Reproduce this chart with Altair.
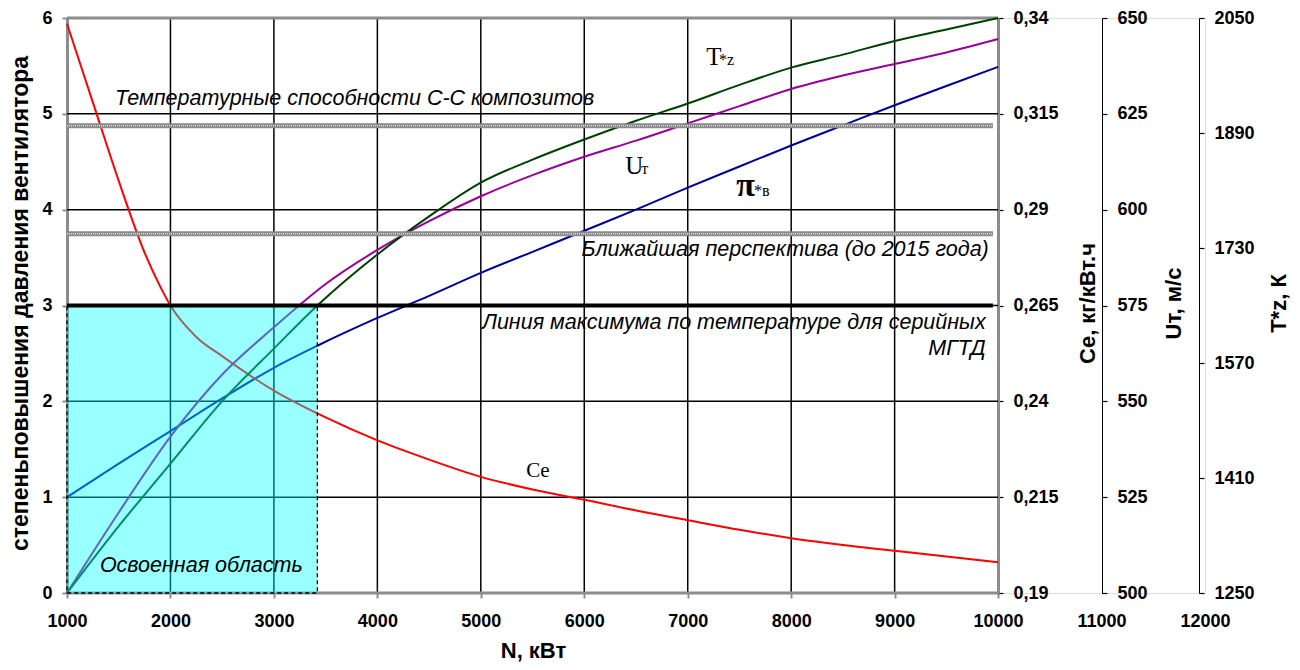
import altair as alt
import pandas as pd

# ---------------- data ----------------
x_ticks = [1000, 2000, 3000, 4000, 5000, 6000, 7000, 8000, 9000, 10000, 11000, 12000]
grid_x = [2000, 3000, 4000, 5000, 6000, 7000, 8000, 9000]
grid_y = [1, 2, 3, 4, 5]
left_ticks = [0, 1, 2, 3, 4, 5, 6]
ce_ticks = [0.19, 0.215, 0.24, 0.265, 0.29, 0.315, 0.34]
u_ticks = [500, 525, 550, 575, 600, 625, 650]
t_ticks = [1250, 1410, 1570, 1730, 1890, 2050]

# pressure ratio of the fan (left axis)
N_pi = [1000, 1500, 2000, 2500, 3000, 3420, 4000, 4500, 5000, 5500, 6000,
        6500, 7000, 7500, 8000, 8500, 9000, 9500, 10000]
pi_vals = [1.0, 1.35, 1.69, 2.03, 2.35, 2.58, 2.87, 3.10, 3.34, 3.56, 3.78,
           4.00, 4.23, 4.45, 4.67, 4.88, 5.09, 5.29, 5.49]

# specific fuel consumption Ce, kg/kWh
N_ce = [1000, 1250, 1500, 1750, 1900, 2000, 2250, 2500, 3000, 3500, 4000, 4500,
        5000, 5500, 6000, 6500, 7000, 7500, 8000, 8500, 9000, 9500, 10000]
ce_vals = [0.3385, 0.318, 0.2975, 0.2788, 0.270, 0.265, 0.2568, 0.2518, 0.2428,
           0.2358, 0.2298, 0.2248, 0.2203, 0.2170, 0.2143, 0.2115, 0.2090,
           0.2065, 0.2043, 0.2025, 0.2010, 0.1995, 0.1980]

# blade tip speed U, m/s
N_u = [1000, 1500, 2000, 2500, 3000, 3500, 4000, 4500, 5000, 5500, 6000,
       6500, 7000, 7500, 8000, 8500, 9000, 9500, 10000]
u_vals = [500, 521.0, 540.8, 557.0, 569.3, 580.6, 589.5, 597.0, 603.5, 609.0,
          613.8, 618.0, 622.5, 627.0, 631.5, 635.0, 638.0, 641.0, 644.5]

# gas temperature T*z, K
N_t = [1000, 1500, 2000, 2500, 3000, 3420, 4000, 4500, 5000, 5500, 6000,
       6500, 7000, 7500, 8000, 8500, 9000, 9500, 10000]
t_vals = [1250, 1343, 1430, 1517, 1590, 1650, 1721, 1774, 1821, 1853, 1881,
          1907, 1931, 1957, 1981, 1999, 2018, 2034, 2050]

# temperature reference levels, K
ref_gray_T = [1900, 1750]
ref_black_T = [1650]

# mastered region
mastered_N = [1000, 3420]
mastered_pi = [0, 3]

# annotations (left-axis units)
note_left_text = ["Температурные способности С-С композитов", "Освоенная область"]
note_left_N = [1463, 1318]
note_left_v = [5.16, 0.28]
note_right_text = ["Ближайшая перспектива (до 2015 года)",
                   "Линия максимума по температуре для серийных", "МГТД"]
note_right_N = [9910, 9880, 9880]
note_right_v = [3.58, 2.82, 2.55]

lab_main = ["T", "U"]
lab_main_N = [7178, 6396]
lab_main_v = [5.51, 4.37]
lab_pi = ["π"]
lab_pi_N = [7470]
lab_pi_v = [4.14]
lab_sub = ["*z", "т", "*в"]
lab_sub_N = [7303, 6550, 7641]
lab_sub_v = [5.51, 4.37, 4.14]
ce_label = ["Ce"]
ce_label_N = [5440]
ce_label_v = [1.21]

# ---------------- styling ----------------
FONT = "Liberation Sans"
SERIF = "Liberation Serif"
GRAY = "#8c8c8c"
W, H = 1138, 575
X_MIN, X_MAX, X_END = 1000, 12000, 10000
LBL = 18
TTL = 22
TITLE_Y = 285

xscale = alt.Scale(domain=[X_MIN, X_MAX], nice=False, zero=False)
xaxis = alt.Axis(
    values=x_ticks, format="d", grid=False, domain=False,
    ticks=True, tickSize=5, tickWidth=2, tickColor=GRAY,
    tickOpacity={"condition": {"test": "datum.value > 10000", "value": 0}, "value": 1},
    labelFont=FONT, labelFontSize=LBL, labelFontWeight="bold", labelColor="black",
    labelPadding=14, labelFlush=False,
    title="N, кВт", titleFont=FONT, titleFontSize=TTL, titleFontWeight="bold",
    titleColor="black", titleX=466, titleY=57, titleAlign="center",
    titleBaseline="middle",
)


def X(field):
    return alt.X(f"{field}:Q", scale=xscale, axis=xaxis)


yL = alt.Scale(domain=[0, 6], nice=False, zero=False)
left_axis = alt.Axis(
    values=left_ticks, grid=False, domainColor=GRAY, domainWidth=3,
    tickColor=GRAY, tickSize=5, tickWidth=2,
    labelFont=FONT, labelFontSize=LBL, labelFontWeight="bold", labelColor="black",
    labelPadding=10,
    title="степеньповышения давления вентилятора", titleFont=FONT,
    titleFontSize=23, titleFontWeight="bold", titleColor="black",
    titleAngle=270, titleX=-47, titleY=TITLE_Y, titleAlign="center",
    titleBaseline="middle", orient="left",
)


def right_axis(vals, title, offset, title_x, dcolor, dwidth, expr):
    return alt.Axis(
        values=vals, grid=False, orient="right", offset=offset,
        domainColor=dcolor, domainWidth=dwidth,
        tickColor="black", tickSize=5, tickWidth=1.2,
        labelFont=FONT, labelFontSize=LBL, labelFontWeight="bold",
        labelColor="black", labelPadding=10, labelExpr=expr,
        title=title, titleFont=FONT, titleFontSize=TTL, titleFontWeight="bold",
        titleColor="black", titleAngle=270, titleX=title_x, titleY=TITLE_Y,
        titleAlign="center", titleBaseline="middle",
    )


def YL(field):
    return alt.Y(f"{field}:Q", scale=yL, axis=None)


# ---------------- layers ----------------
hgrid = pd.DataFrame({"v": grid_y, "xs": X_MIN, "xe": X_END})
vgrid = pd.DataFrame({"N": grid_x})
grid_layer = alt.layer(
    alt.Chart(hgrid).mark_rule(color="black", strokeWidth=1.5).encode(
        x=X("xs"), x2="xe:Q", y=alt.Y("v:Q", scale=yL, axis=left_axis)),
    alt.Chart(vgrid).mark_rule(color="black", strokeWidth=1.5).encode(x=X("N")),
)

frame_df = pd.DataFrame({"v": [0, 6], "xs": X_MIN, "xe": X_END})
frame_layer = alt.Chart(frame_df).mark_rule(color=GRAY, strokeWidth=3).encode(
    x=X("xs"), x2="xe:Q", y=YL("v"))

pi_df = pd.DataFrame({"N": N_pi, "v": pi_vals})
pi_layer = alt.Chart(pi_df).mark_line(color="#000099", strokeWidth=2,
                                      interpolate="monotone").encode(
    x=X("N"), y=YL("v"))

ce_df = pd.DataFrame({"N": N_ce, "ce": ce_vals})
ce_layer = alt.Chart(ce_df).mark_line(color="#ff0000", strokeWidth=2,
                                      interpolate="monotone").encode(
    x=X("N"),
    y=alt.Y("ce:Q", scale=alt.Scale(domain=[0.19, 0.34], nice=False, zero=False),
            axis=right_axis(ce_ticks, "Ce, кг/кВт.ч", -207, 89, GRAY, 3,
                            "replace(format(datum.value, '.3~f'), '.', ',')")))

u_df = pd.DataFrame({"N": N_u, "u": u_vals})
u_layer = alt.Chart(u_df).mark_line(color="#990099", strokeWidth=2,
                                    interpolate="monotone").encode(
    x=X("N"),
    y=alt.Y("u:Q", scale=alt.Scale(domain=[500, 650], nice=False, zero=False),
            axis=right_axis(u_ticks, "Uт, м/с", -103, 71, "black", 1,
                            "format(datum.value, 'd')")))

t_df = pd.DataFrame({"N": N_t, "t": t_vals})
yT = alt.Scale(domain=[1250, 2050], nice=False, zero=False)
t_layer = alt.Chart(t_df).mark_line(color="#004000", strokeWidth=2,
                                    interpolate="monotone").encode(
    x=X("N"),
    y=alt.Y("t:Q", scale=yT,
            axis=right_axis(t_ticks, "T*z, К", -6, 79, "black", 1,
                            "format(datum.value, 'd')")))

rect_df = pd.DataFrame({"n0": [mastered_N[0]], "n1": [mastered_N[1]],
                        "v0": [mastered_pi[0]], "v1": [mastered_pi[1]]})
rect_layer = alt.Chart(rect_df).mark_rect(
    fill="#00ffff", fillOpacity=0.4, stroke="black", strokeOpacity=1,
    strokeDash=[4, 3], strokeWidth=1.3).encode(
    x=X("n0"), x2="n1:Q", y=YL("v0"), y2="v1:Q")

ref_gray_df = pd.DataFrame({"t": ref_gray_T, "xs": X_MIN, "xe": 9950})
ref_black_df = pd.DataFrame({"t": ref_black_T, "xs": X_MIN, "xe": 9950})
ref_layer = alt.layer(
    alt.Chart(ref_gray_df).mark_rule(color="#8a8a8a", strokeWidth=5).encode(
        x=X("xs"), x2="xe:Q", y=alt.Y("t:Q", scale=yT, axis=None)),
    alt.Chart(ref_gray_df).mark_rule(color="#d8d8d8", strokeWidth=1.5,
                                     strokeDash=[1, 1]).encode(
        x=X("xs"), x2="xe:Q", y=alt.Y("t:Q", scale=yT, axis=None)),
    alt.Chart(ref_black_df).mark_rule(color="black", strokeWidth=4).encode(
        x=X("xs"), x2="xe:Q", y=alt.Y("t:Q", scale=yT, axis=None)),
)

nl_df = pd.DataFrame({"N": note_left_N, "v": note_left_v, "txt": note_left_text})
nr_df = pd.DataFrame({"N": note_right_N, "v": note_right_v, "txt": note_right_text})
lm_df = pd.DataFrame({"N": lab_main_N, "v": lab_main_v, "txt": lab_main})
lp_df = pd.DataFrame({"N": lab_pi_N, "v": lab_pi_v, "txt": lab_pi})
ls_df = pd.DataFrame({"N": lab_sub_N, "v": lab_sub_v, "txt": lab_sub})
lc_df = pd.DataFrame({"N": ce_label_N, "v": ce_label_v, "txt": ce_label})

text_layer = alt.layer(
    alt.Chart(nl_df).mark_text(font=FONT, fontSize=21.5, fontStyle="italic",
                               align="left", baseline="middle", color="black").encode(
        x=X("N"), y=YL("v"), text="txt:N"),
    alt.Chart(nr_df).mark_text(font=FONT, fontSize=21.5, fontStyle="italic",
                               align="right", baseline="middle", color="black").encode(
        x=X("N"), y=YL("v"), text="txt:N"),
    alt.Chart(lm_df).mark_text(font=SERIF, fontSize=25, align="left",
                               baseline="alphabetic", color="black").encode(
        x=X("N"), y=YL("v"), text="txt:N"),
    alt.Chart(lp_df).mark_text(font=SERIF, fontSize=34, fontWeight="bold", align="left",
                               baseline="alphabetic", color="black").encode(
        x=X("N"), y=YL("v"), text="txt:N"),
    alt.Chart(ls_df).mark_text(font=SERIF, fontSize=16, align="left",
                               baseline="alphabetic", color="black").encode(
        x=X("N"), y=YL("v"), text="txt:N"),
    alt.Chart(lc_df).mark_text(font=SERIF, fontSize=21, align="left",
                               baseline="alphabetic", color="black").encode(
        x=X("N"), y=YL("v"), text="txt:N"),
)

chart = alt.layer(
    grid_layer, frame_layer, pi_layer, ce_layer, u_layer, t_layer,
    rect_layer, ref_layer, text_layer,
).resolve_scale(y="independent").properties(
    width=W, height=H,
    autosize=alt.AutoSizeParams(type="none"),
    padding={"left": 59, "top": 10, "right": 87, "bottom": 69},
).configure_view(stroke=None).configure(background="white")

chart.save("out.html", embed_options={"renderer": "svg", "actions": False})
